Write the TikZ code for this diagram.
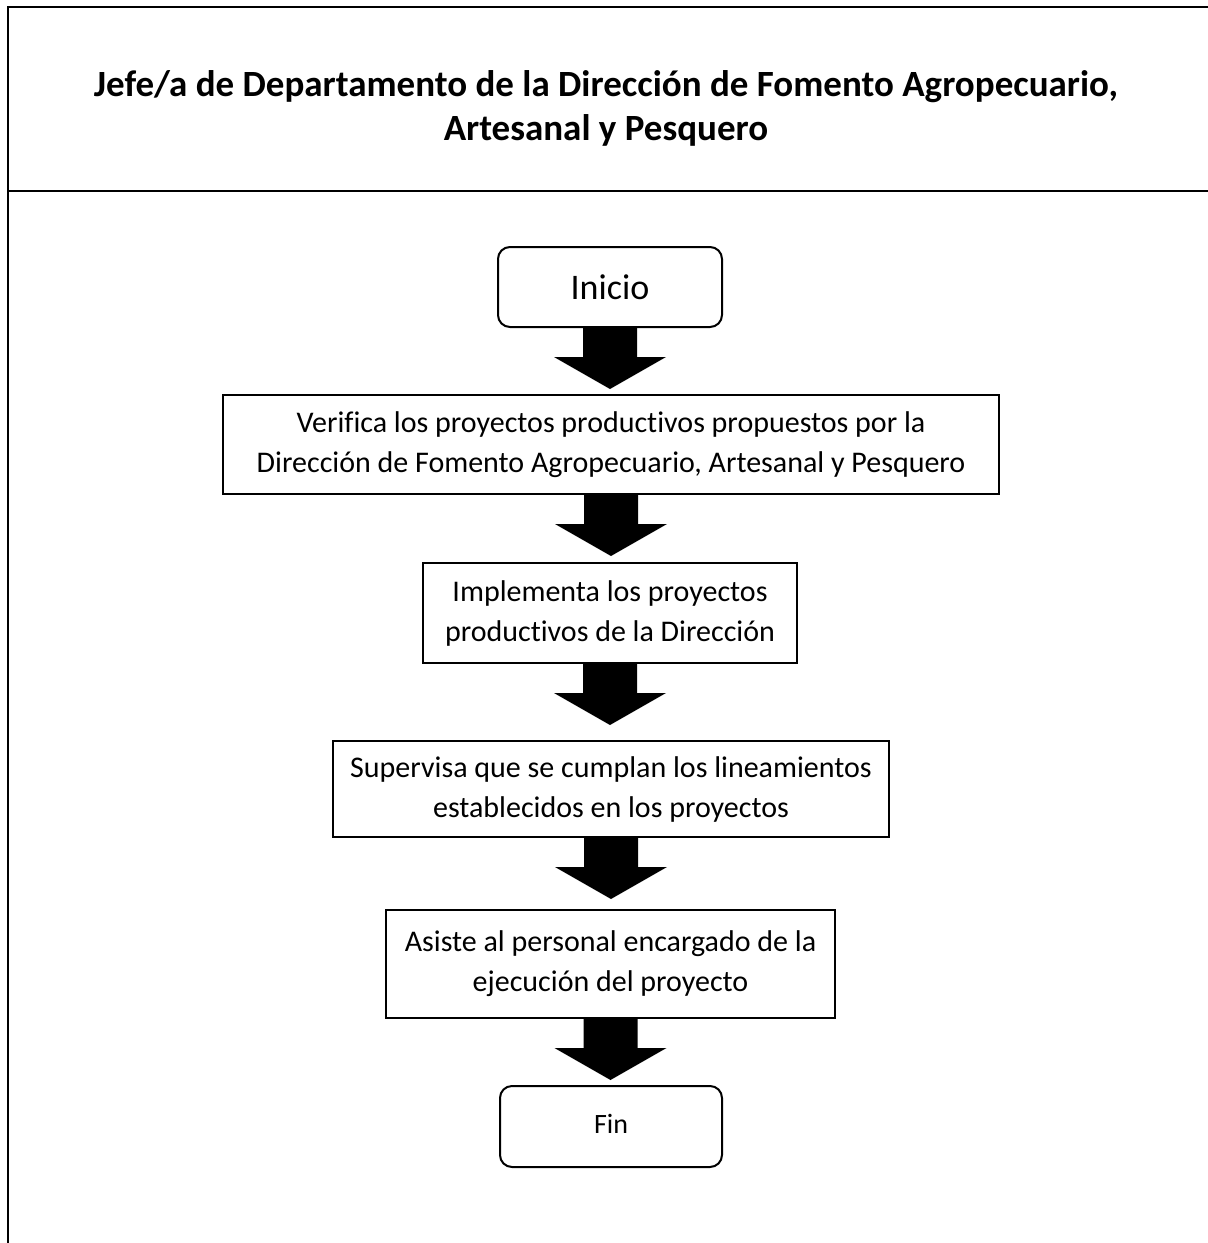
\documentclass[tikz,border=0pt]{standalone}
\usepackage{fontspec}
\setmainfont[Ligatures=NoCommon]{Carlito}
\usetikzlibrary{calc}
\tikzset{
  frameline/.style={line width=2pt, line cap=rect},
  stepbox/.style={draw, line width=2pt, rectangle, align=center, inner sep=0pt,
    font=\fontsize{30}{40}\selectfont},
  termbox/.style={stepbox, rounded corners=12pt},
  blockarrow/.style={fill=black},
}
\newcommand\flowarrow[1]{%
  \fill[blockarrow] ($(#1.south)+(-27,-1)$) -- ($(#1.south)+(27,-1)$) --
    ($(#1.south)+(27,29)$) -- ($(#1.south)+(56,29)$) --
    ($(#1.south)+(0,61)$) -- ($(#1.south)+(-56,29)$) --
    ($(#1.south)+(-27,29)$) -- cycle;}
\begin{document}
\begin{tikzpicture}[x=1pt,y=-1pt]
\useasboundingbox (0,0) rectangle (1208,1243);
% frame
\draw[frameline] (8,1250) -- (8,7) -- (1215,7);
\draw[frameline] (8,191) -- (1215,191);
\node[font=\fontsize{37}{44}\selectfont\bfseries, align=center] (title) at (606,108)
  {Jefe/a de Departamento de la Dirección de Fomento Agropecuario,\\Artesanal y Pesquero};
% nodes
\node[termbox, minimum width=224pt, minimum height=80pt, font=\fontsize{36}{40}\selectfont] (ini) at (610,287) {Inicio};
\node[stepbox, minimum width=776pt, minimum height=99pt] (ver) at (611,444.5)
  {\raisebox{-4pt}{\parbox{770pt}{\centering Verifica los proyectos productivos propuestos por la\\Dirección de Fomento Agropecuario, Artesanal y Pesquero}}};
\node[stepbox, minimum width=374pt, minimum height=100pt] (imp) at (610,613)
  {\raisebox{-3pt}{\parbox{370pt}{\centering Implementa los proyectos\\productivos de la Dirección}}};
\node[stepbox, minimum width=556pt, minimum height=96pt] (sup) at (611,789)
  {\raisebox{-3pt}{\parbox{550pt}{\centering Supervisa que se cumplan los lineamientos\\establecidos en los proyectos}}};
\node[stepbox, minimum width=449pt, minimum height=108pt] (asi) at (610.5,964)
  {\parbox{445pt}{\centering Asiste al personal encargado de la\\ejecución del proyecto}};
\node[termbox, minimum width=222pt, minimum height=81pt, font=\fontsize{28}{40}\selectfont] (fin) at (611,1126.5)
  {\raisebox{6pt}{Fin}};
% arrows
\flowarrow{ini}
\flowarrow{ver}
\flowarrow{imp}
\flowarrow{sup}
\flowarrow{asi}
\end{tikzpicture}
\end{document}
